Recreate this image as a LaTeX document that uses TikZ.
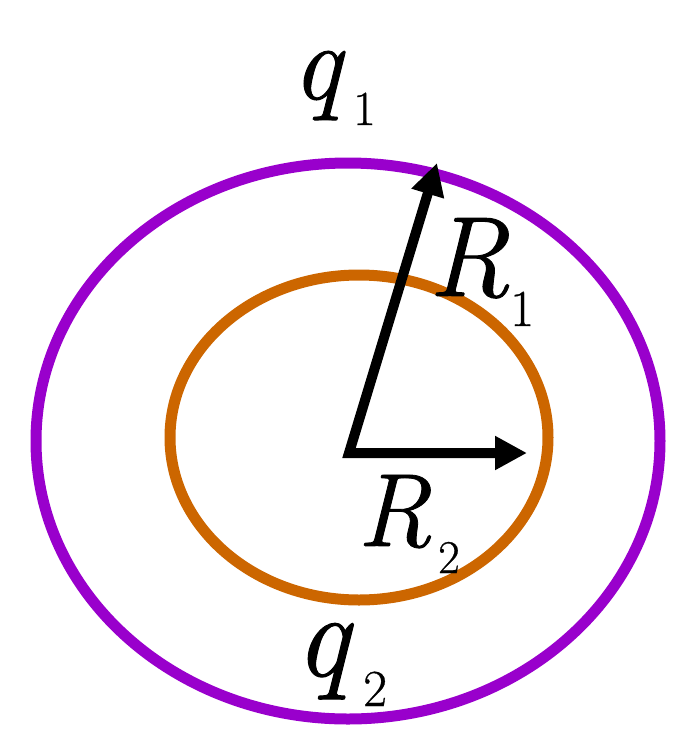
\documentclass[tikz,border=0pt]{standalone}
\usepackage{fontspec}
\newfontfamily\lmf[UprightFeatures={FakeBold=0.6},ItalicFeatures={FakeBold=0.8}]{Latin Modern Roman}
\usetikzlibrary{arrows.meta}
\definecolor{outerc}{RGB}{153,0,204}
\definecolor{innerc}{RGB}{204,102,0}
% #1 letter, #2 size, #3 subscript, #4 sub size, #5 sub x offset, #6 sub drop
\newcommand{\mylab}[6]{\lmf\makebox[0pt][l]{\fontsize{#2}{#2}\selectfont\itshape #1}\hspace{#5}\raisebox{-#6}{\fontsize{#4}{#4}\selectfont\upshape #3}}
\begin{document}
\begin{tikzpicture}[x=1pt,y=-1pt,
  ring/.style={line width=11pt},
  vec/.style={line width=10pt,line join=miter,{Triangle[length=32pt,width=32pt]}-{Triangle[length=32pt,width=32pt]}},
  lab/.style={anchor=base west,inner sep=0pt}]
\useasboundingbox (0,0) rectangle (687,740);
\draw[ring,outerc] (348,441) ellipse [x radius=312,y radius=278];
\draw[ring,innerc] (359,437.5) ellipse [x radius=189,y radius=162.5];
\coordinate (c) at (349,453);
\coordinate (t1) at (437,163);
\coordinate (t2) at (527,453);
\draw[vec] (t1) -- (c) -- (t2);
\node[lab] (q1) at (292,99) {\mylab{q}{109}{1}{49}{61pt}{26pt}};
\node[lab] (q2) at (295,676) {\mylab{q}{120}{2}{52}{68pt}{30pt}};
\node[lab] (R1) at (428,296) {\mylab{R}{114}{1}{52}{82pt}{30pt}};
\node[lab] (R2) at (357,546) {\mylab{R}{104}{2}{47}{81pt}{27pt}};
\end{tikzpicture}
\end{document}
